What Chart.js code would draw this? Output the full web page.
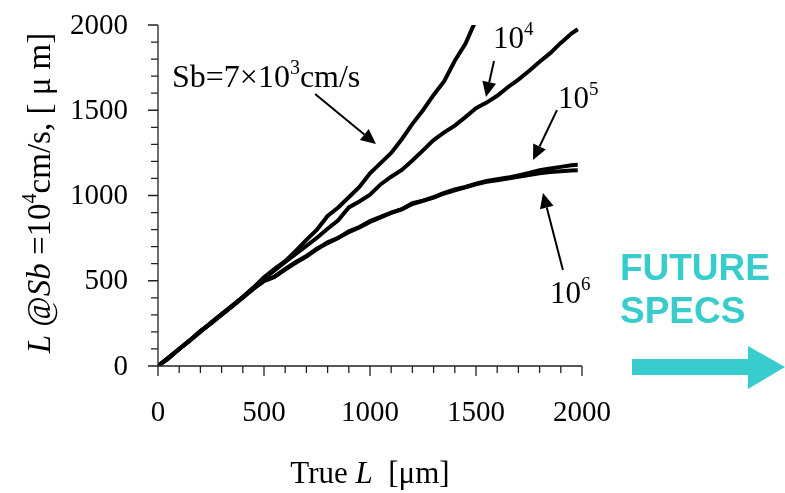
<!DOCTYPE html>
<html>
<head>
<meta charset="utf-8">
<script src="https://cdn.jsdelivr.net/npm/chart.js@4/dist/chart.umd.min.js"></script>
<style>
html, body { margin: 0; padding: 0; background: #fff; }
#wrap { width: 785px; height: 493px; }
</style>
</head>
<body>
<div id="wrap"><canvas id="chart" width="785" height="493"></canvas></div>
<script>
// True L [um] sample positions
const trueL = [0, 50, 100, 150, 200, 250, 300, 350, 400, 450, 500, 550, 600, 650, 700, 750, 800, 850, 900, 950,
    1000, 1050, 1100, 1150, 1200, 1250, 1300, 1350, 1400, 1450, 1500, 1550, 1600, 1650, 1700, 1750, 1800, 1850, 1900, 1950, 1980];

// L measured assuming Sb = 1e4 cm/s, for each real Sb
const sb7e3 = [0, 45, 100, 150, 200, 255, 305, 355, 405, 460, 520, 570, 615, 675, 740, 800, 880, 930, 990, 1050,
    1130, 1190, 1250, 1330, 1420, 1500, 1590, 1670, 1790, 1890, 2030];
const sb1e4 = [0, 48, 100, 148, 205, 252, 303, 352, 405, 458, 512, 560, 610, 658, 705, 752, 805, 855, 930, 965,
    1005, 1065, 1110, 1150, 1205, 1265, 1325, 1370, 1410, 1460, 1512, 1545, 1585, 1635, 1680, 1730, 1785, 1835, 1895, 1950, 1975];
const sb1e5 = [0, 50, 100, 150, 205, 250, 303, 352, 402, 455, 500, 525, 570, 610, 645, 690, 720, 750, 790, 815,
    850, 875, 900, 920, 955, 970, 990, 1015, 1035, 1050, 1070, 1085, 1095, 1105, 1118, 1132, 1148, 1158, 1168, 1178, 1180];
const sb1e6 = [0, 50, 100, 150, 203, 250, 300, 350, 400, 452, 498, 522, 565, 605, 642, 685, 725, 752, 785, 812,
    845, 872, 898, 918, 950, 968, 988, 1012, 1030, 1048, 1066, 1080, 1090, 1100, 1110, 1120, 1130, 1138, 1142, 1146, 1148];

const majorTicks = [0, 500, 1000, 1500, 2000];
const minorStep = 100;

const serif = "'Liberation Serif', 'Times New Roman', serif";
const teal = '#38cccc';

function pts(ys) {
    return ys.map((y, i) => ({ x: trueL[i], y }));
}

function series(label, ys) {
    return {
        label,
        data: pts(ys),
        borderColor: '#000',
        borderWidth: 4,
        pointRadius: 0,
        tension: 0,
        fill: false,
    };
}

// draw a run of text pieces: { t, it (italic), sup }
function richText(ctx, pieces, x, y, size, align) {
    const widths = pieces.map((p) => {
        ctx.font = fontFor(p, size);
        return ctx.measureText(p.t).width;
    });
    const total = widths.reduce((a, b) => a + b, 0);
    let cx = align === 'center' ? x - total / 2 : x;
    ctx.textAlign = 'left';
    ctx.textBaseline = 'alphabetic';
    pieces.forEach((p, i) => {
        ctx.font = fontFor(p, size);
        ctx.fillText(p.t, cx, p.sup ? y - size * 0.42 : y);
        cx += widths[i];
    });
}

function fontFor(p, size) {
    const s = p.sup ? Math.round(size * 0.62) : size;
    return (p.it ? 'italic ' : '') + s + 'px ' + serif;
}

function arrow(ctx, x1, y1, x2, y2) {
    const ang = Math.atan2(y2 - y1, x2 - x1);
    const hl = 15, hw = 7;
    const bx = x2 - hl * Math.cos(ang), by = y2 - hl * Math.sin(ang);
    ctx.beginPath();
    ctx.moveTo(x1, y1);
    ctx.lineTo(bx, by);
    ctx.lineWidth = 2;
    ctx.strokeStyle = '#000';
    ctx.stroke();
    ctx.beginPath();
    ctx.moveTo(x2, y2);
    ctx.lineTo(bx + hw * Math.sin(ang), by - hw * Math.cos(ang));
    ctx.lineTo(bx - hw * Math.sin(ang), by + hw * Math.cos(ang));
    ctx.closePath();
    ctx.fillStyle = '#000';
    ctx.fill();
}

const decor = {
    id: 'decor',
    afterDraw(chart) {
        const ctx = chart.ctx;
        const xs = chart.scales.x, ys = chart.scales.y;
        const X = (v) => xs.getPixelForValue(v);
        const Y = (v) => ys.getPixelForValue(v);
        const area = chart.chartArea;
        ctx.save();

        // axes
        ctx.strokeStyle = '#222';
        ctx.lineWidth = 1.3;
        ctx.beginPath();
        ctx.moveTo(area.left, area.top);
        ctx.lineTo(area.left, area.bottom);
        ctx.lineTo(area.right, area.bottom);
        ctx.stroke();
        for (let v = 0; v <= 2000; v += minorStep) {
            const major = v % 500 === 0;
            const len = major ? 10 : 7;
            ctx.beginPath();
            ctx.moveTo(X(v), area.bottom);
            ctx.lineTo(X(v), area.bottom + len);
            ctx.moveTo(area.left, Y(v));
            ctx.lineTo(area.left - len, Y(v));
            ctx.stroke();
        }

        // tick labels
        ctx.fillStyle = '#000';
        ctx.font = '29px ' + serif;
        ctx.textBaseline = 'middle';
        majorTicks.forEach((v) => {
            ctx.textAlign = 'center';
            ctx.fillText(String(v), X(v), area.bottom + 47);
            ctx.textAlign = 'right';
            ctx.fillText(String(v), area.left - 30, Y(v) + 1);
        });

        // axis titles
        richText(ctx, [{ t: 'True ' }, { t: 'L', it: true }, { t: '  [\u03bcm]' }], 370, 483, 31, 'center');
        ctx.save();
        ctx.translate(50, 193);
        ctx.rotate(-Math.PI / 2);
        richText(ctx, [
            { t: 'L', it: true }, { t: ' @' }, { t: 'Sb', it: true }, { t: ' =10' }, { t: '4', sup: true },
            { t: 'cm/s, [ \u03bc m]' },
        ], 0, 0, 33, 'center');
        ctx.restore();

        // curve labels
        richText(ctx, [{ t: 'Sb=7\u00d710' }, { t: '3', sup: true }, { t: 'cm/s' }], X(66), Y(1636), 32, 'left');
        arrow(ctx, X(741), Y(1595), X(1028), Y(1302));
        richText(ctx, [{ t: '10' }, { t: '4', sup: true }], X(1580), Y(1865), 31, 'left');
        arrow(ctx, X(1585), Y(1789), X(1547), Y(1578));
        richText(ctx, [{ t: '10' }, { t: '5', sup: true }], X(1887), Y(1513), 31, 'left');
        arrow(ctx, X(1882), Y(1501), X(1769), Y(1208));
        richText(ctx, [{ t: '10' }, { t: '6', sup: true }], X(1849), Y(370), 31, 'left');
        arrow(ctx, X(1910), Y(563), X(1816), Y(1015));

        // future specs
        ctx.fillStyle = teal;
        ctx.font = "bold 37px 'Liberation Sans', Arial, sans-serif";
        ctx.textAlign = 'left';
        ctx.textBaseline = 'alphabetic';
        ctx.fillText('FUTURE', X(2179), Y(504));
        ctx.fillText('SPECS', X(2179), Y(252));
        const ay = area.bottom + 1;
        const x0 = X(2236), xb = X(2783), xt = X(2958);
        ctx.beginPath();
        ctx.moveTo(x0, ay - 8);
        ctx.lineTo(xb, ay - 8);
        ctx.lineTo(xb, ay - 21);
        ctx.lineTo(xt, ay);
        ctx.lineTo(xb, ay + 22);
        ctx.lineTo(xb, ay + 8);
        ctx.lineTo(x0, ay + 8);
        ctx.closePath();
        ctx.fill();

        ctx.restore();
    },
};

new Chart(document.getElementById('chart'), {
    type: 'line',
    data: {
        datasets: [
            series('Sb=7e3', sb7e3),
            series('Sb=1e4', sb1e4),
            series('Sb=1e5', sb1e5),
            series('Sb=1e6', sb1e6),
        ],
    },
    options: {
        responsive: false,
        animation: false,
        devicePixelRatio: 1,
        layout: { padding: { left: 158, right: 203, top: 25, bottom: 127 } },
        plugins: { legend: { display: false }, tooltip: { enabled: false } },
        scales: {
            x: { type: 'linear', min: 0, max: 2000, display: false },
            y: { type: 'linear', min: 0, max: 2000, display: false },
        },
    },
    plugins: [decor],
});
</script>
</body>
</html>
